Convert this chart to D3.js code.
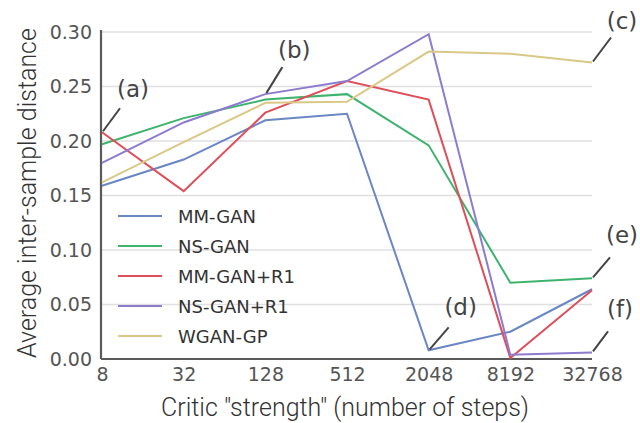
<!DOCTYPE html>
<html>
  <head>
    <meta charset="utf-8">
    <style>
      body { margin: 0; background: #fff; }
      svg { display: block; }
    </style>
    <script src="https://d3js.org/d3.v7.min.js"></script>
  </head>
  <body>
    <svg></svg>
    <script>
    var steps = [8, 32, 128, 512, 2048, 8192, 32768];
    var yTicks = [0, 0.05, 0.10, 0.15, 0.20, 0.25, 0.30];
    var names = ["MM-GAN", "NS-GAN", "MM-GAN+R1", "NS-GAN+R1", "WGAN-GP"];
    var colors = ["#6a86c4", "#3db36e", "#dd4f5a", "#8d7bce", "#d9c886"];

    var mmGan   = [0.159, 0.183, 0.219, 0.225, 0.008, 0.025, 0.064];
    var nsGan   = [0.197, 0.221, 0.238, 0.243, 0.196, 0.070, 0.074];
    var mmGanR1 = [0.208, 0.154, 0.226, 0.255, 0.238, 0.001, 0.063];
    var nsGanR1 = [0.180, 0.217, 0.243, 0.255, 0.298, 0.004, 0.006];
    var wganGp  = [0.162, 0.199, 0.235, 0.236, 0.282, 0.280, 0.272];
    var series = [mmGan, nsGan, mmGanR1, nsGanR1, wganGp];

    // annotations: label, series index, step index
    var notes = [
      {label: "(a)", s: 2, i: 0},
      {label: "(b)", s: 3, i: 2},
      {label: "(c)", s: 4, i: 6},
      {label: "(d)", s: 0, i: 4},
      {label: "(e)", s: 1, i: 6},
      {label: "(f)", s: 3, i: 6}
    ];
    // pointer end and label offsets from the point
    var lineOff = [[18, -24], [17, -27], [19, -25], [20, -23], [18, -21], [16, -21]];
    var textOff = [[31, -35], [29, -36], [30, -34], [32, -35], [30, -35], [28, -35]];

    var width = 640, height = 423;
    var svg = d3.select("svg").attr("width", width).attr("height", height);

    var x = d3.scalePoint().domain(steps).range([102, 592]);
    var y = d3.scaleLinear().domain([0, 0.30]).range([359, 32]);

    // grid
    svg.append("g").selectAll("line")
      .data(yTicks.slice(1))
      .enter().append("line")
        .attr("x1", 102).attr("x2", 592)
        .attr("y1", function(d) { return y(d); })
        .attr("y2", function(d) { return y(d); })
        .attr("stroke", "#e0e0e0")
        .attr("stroke-width", 1.3);

    // axes
    var yAxis = svg.append("g")
        .attr("transform", "translate(101,0)")
        .call(d3.axisLeft(y).tickValues(yTicks).tickFormat(d3.format(".2f")).tickSize(0).tickPadding(9));
    var xAxis = svg.append("g")
        .attr("transform", "translate(0,359)")
        .call(d3.axisBottom(x).tickSize(0).tickPadding(9));
    [xAxis, yAxis].forEach(function(a) {
      a.select(".domain").attr("stroke", "#5a5a5a").attr("stroke-width", 2.2);
      a.selectAll("text")
        .attr("fill", "#555")
        .style("font-family", "DejaVu Sans")
        .style("font-size", "19px");
    });
    yAxis.select(".domain").attr("d", "M0,30V359");
    xAxis.select(".domain").attr("d", "M101,0H592");

    // lines
    var line = d3.line()
        .x(function(d, i) { return x(steps[i]); })
        .y(function(d) { return y(d); });

    svg.append("g").selectAll("path")
      .data(series)
      .enter().append("path")
        .attr("d", line)
        .attr("fill", "none")
        .attr("stroke", function(d, i) { return colors[i]; })
        .attr("stroke-width", 2);

    // legend
    var legend = svg.append("g").selectAll("g")
      .data(names)
      .enter().append("g")
        .attr("transform", function(d, i) { return "translate(118," + (216 + i * 30) + ")"; });
    legend.append("line")
        .attr("x1", 0).attr("x2", 44)
        .attr("stroke", function(d, i) { return colors[i]; })
        .attr("stroke-width", 2);
    legend.append("text")
        .attr("x", 60).attr("y", 7)
        .attr("fill", "#333")
        .style("font-family", "DejaVu Sans")
        .style("font-size", "18px")
        .text(function(d) { return d; });

    // annotations
    var ann = svg.append("g").selectAll("g")
      .data(notes)
      .enter().append("g");
    ann.append("line")
        .attr("x1", function(d) { return x(steps[d.i]) + 1; })
        .attr("y1", function(d) { return y(series[d.s][d.i]) - 1; })
        .attr("x2", function(d, k) { return x(steps[d.i]) + lineOff[k][0]; })
        .attr("y2", function(d, k) { return y(series[d.s][d.i]) + lineOff[k][1]; })
        .attr("stroke", "#444")
        .attr("stroke-width", 2);
    ann.append("text")
        .attr("x", function(d, k) { return x(steps[d.i]) + textOff[k][0]; })
        .attr("y", function(d, k) { return y(series[d.s][d.i]) + textOff[k][1]; })
        .attr("text-anchor", "middle")
        .attr("fill", "#444")
        .style("font-family", "DejaVu Sans")
        .style("font-size", "23px")
        .text(function(d) { return d.label; });

    // titles
    svg.append("text")
        .attr("x", 345).attr("y", 416)
        .attr("text-anchor", "middle")
        .attr("fill", "#333")
        .style("font-family", "Roboto")
        .style("font-weight", 300)
        .style("font-size", "25px")
        .text('Critic "strength" (number of steps)');
    svg.append("text")
        .attr("transform", "translate(36,193) rotate(-90)")
        .attr("text-anchor", "middle")
        .attr("fill", "#333")
        .style("font-family", "Roboto")
        .style("font-weight", 300)
        .style("font-size", "25px")
        .text("Average inter-sample distance");
    </script>
  </body>
</html>
